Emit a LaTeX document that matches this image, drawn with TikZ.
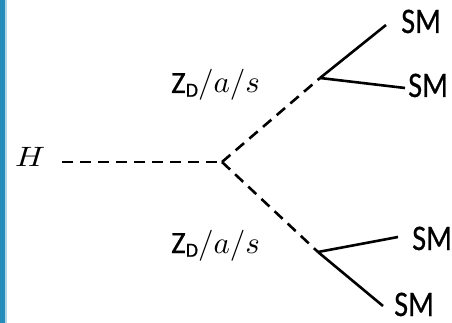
\documentclass[tikz,border=0pt]{standalone}
\usepackage{fontspec}
\newfontfamily\smfont[FakeBold=0.6]{Carlito}
\definecolor{barblue}{RGB}{38,140,186}
\tikzset{
  prop/.style={line width=2.6pt, line cap=butt},
  dashprop/.style={prop, dash pattern=on 11pt off 7pt},
  smlabel/.style={font=\smfont\fontsize{36}{36}\selectfont, inner sep=0pt, anchor=base west},
  medlabel/.style={inner sep=0pt, anchor=base west},
}
\newcommand{\smtext}{\scalebox{0.84}[1]{SM}}
\newcommand{\zdas}{{\smfont\fontsize{31}{31}\selectfont Z\raisebox{-0.12em}{\fontsize{20}{20}\selectfont D}}\scalebox{3.1}{$/a/s$}}
\begin{document}
\begin{tikzpicture}[x=1pt,y=-1pt]
\useasboundingbox (0,0) rectangle (452,323);
\fill[barblue] (0,0) rectangle (5,323);
\fill[barblue!35] (5,0) rectangle (7,323);
% nodes
\node[inner sep=0pt, anchor=base west] (H) at (15,167) {\scalebox{3.3}[2.8]{$H$}};
\coordinate (hs) at (62,162);
\coordinate (v) at (222,162);
\coordinate (u) at (320,78);
\coordinate (l) at (318,252);
\coordinate (u1) at (386,25);
\coordinate (u2) at (405,88);
\coordinate (l1) at (398,237);
\coordinate (l2) at (383,306);
\node[smlabel] (s1) at (401,33) {\smtext};
\node[smlabel] (s2) at (408,97) {\smtext};
\node[smlabel] (s3) at (412,250) {\smtext};
\node[smlabel] (s4) at (394,316) {\smtext};
\node[medlabel] (zu) at (171,93) {\zdas};
\node[medlabel] (zl) at (171,253) {\zdas};
% propagators
\draw[dashprop] (hs) -- (v);
\draw[dashprop] (v) -- (u);
\draw[dashprop] (v) -- (l);
\draw[prop] (u) -- (u1);
\draw[prop] (u) -- (u2);
\draw[prop] (l) -- (l1);
\draw[prop] (l) -- (l2);
\end{tikzpicture}
\end{document}
